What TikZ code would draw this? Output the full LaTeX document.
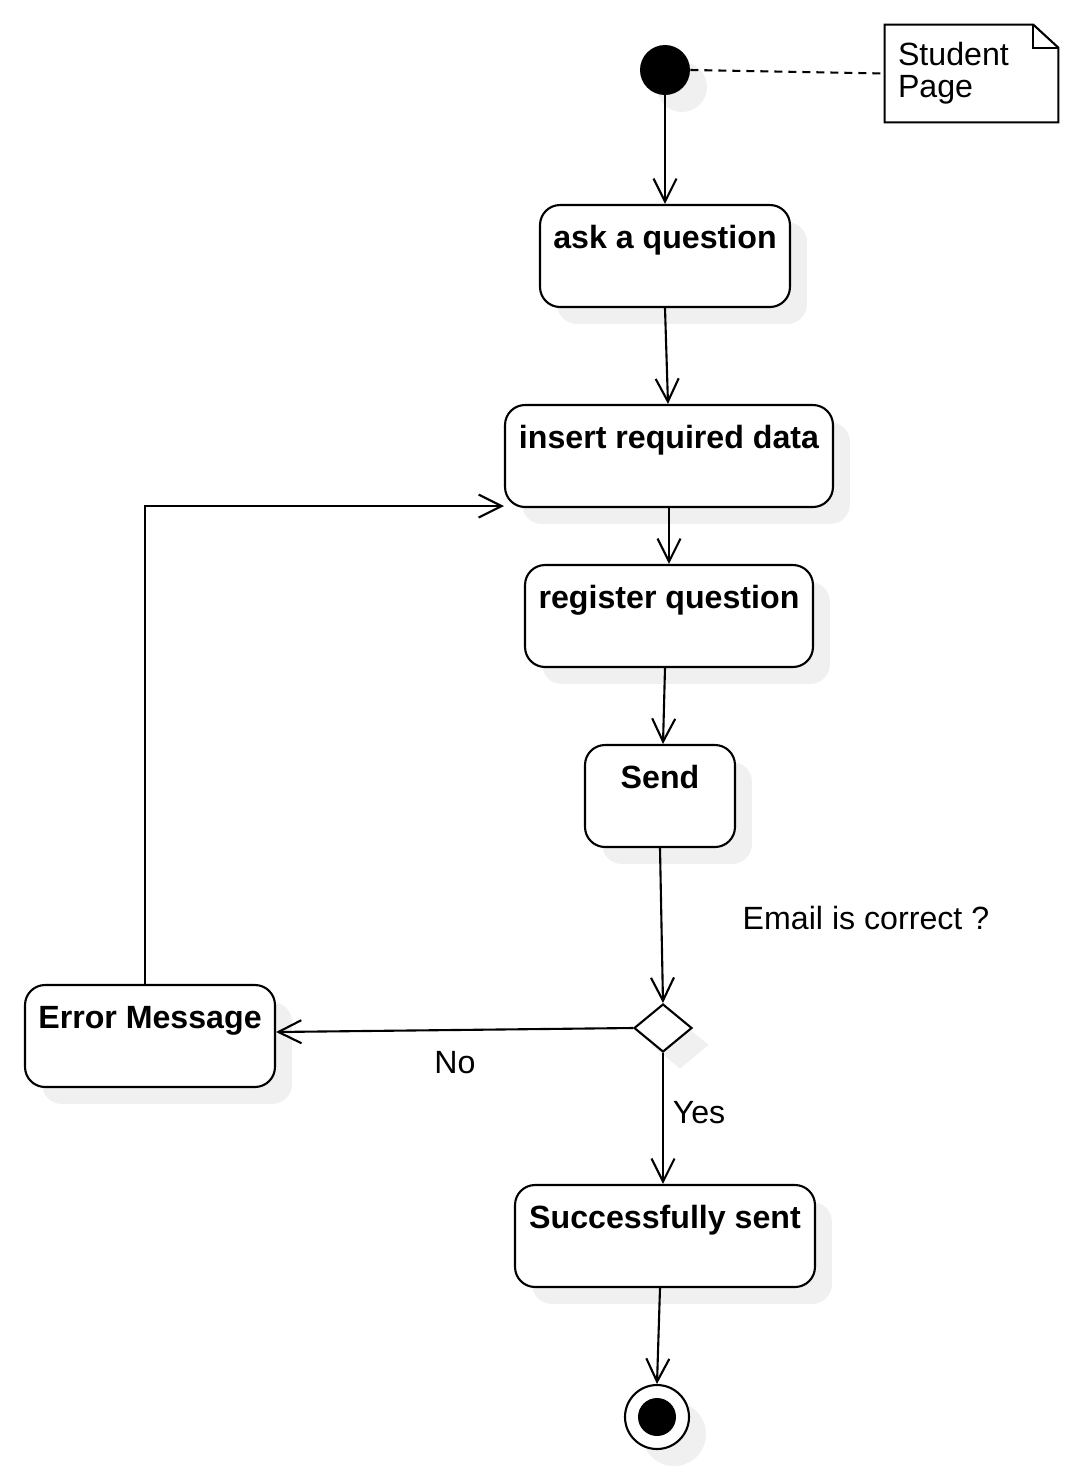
\documentclass[tikz,border=0pt]{standalone}
\usepackage{fontspec}
\setmainfont{Liberation Sans}
\usetikzlibrary{arrows.meta, shapes.geometric, shadows}

\tikzset{
  shadebox/.style={drop shadow={shadow xshift=0.34cm, shadow yshift=-0.34cm, fill=black!6, opacity=1}},
  activity/.style={draw, line width=1.2pt, rounded corners=0.4cm, fill=white, shadebox,
    inner xsep=0pt, inner ysep=0pt, minimum height=2.04cm,
    text height=0.86cm, text depth=1.18cm,
    font=\fontsize{18.3pt}{18.3pt}\selectfont\bfseries},
  flow/.style={-{Straight Barb[length=0.46cm, width=0.46cm]}, line width=1.2pt},
  lbl/.style={font=\fontsize{18.3pt}{18.3pt}\selectfont},
}

\begin{document}
\begin{tikzpicture}[x=0.02cm, y=-0.02cm]
    \useasboundingbox[fill=white] (0,0) rectangle (1085,1475);

    % 1. Start, note
    \node[circle, fill=black, minimum size=1cm, inner sep=0pt, shadebox] (start) at (665,70) {};
    \node[lbl, minimum width=3.46cm, minimum height=1.94cm, inner xsep=0.26cm,
          text width=2.94cm, align=left] (note) at (971.5,73.5) {Student\\Page};
    \draw[line width=1.2pt] (note.north west) -- ([xshift=-0.5cm]note.north east)
        -- ([yshift=-0.46cm]note.north east) -- (note.south east) -- (note.south west) -- cycle;
    \draw[line width=1.2pt] ([xshift=-0.5cm]note.north east) |- ([yshift=-0.46cm]note.north east);

    % 2. Activities
    \node[activity, minimum width=5cm] (ask) at (665,256) {ask a question};
    \node[activity, minimum width=6.56cm] (insert) at (669,456) {insert required data};
    \node[activity, minimum width=5.76cm] (register) at (669,616) {register question};
    \node[activity, minimum width=3cm] (send) at (660,796) {Send};
    \node[diamond, draw, line width=1.2pt, fill=white, minimum width=1.16cm, minimum height=0.96cm,
          aspect=1.2, inner sep=0pt, shadebox] (check) at (663,1028) {};
    \node[activity, minimum width=5cm] (error) at (150,1036) {Error Message};
    \node[activity, minimum width=6cm] (success) at (665,1236) {Successfully sent};
    \node[circle, draw, line width=1.2pt, fill=white, minimum size=1.28cm, inner sep=0pt, shadebox] (stop) at (657,1417) {};
    \fill (stop.center) circle[radius=0.38cm];

    % 3. Labels
    \node[lbl] (email) at (866,918) {Email is correct ?};
    \node[lbl] (no) at (455,1063) {No};
    \node[lbl] (yes) at (699,1113) {Yes};

    % 4. Transitions
    \draw[line width=1.2pt, dash pattern=on 0.16cm off 0.12cm] (start.east) -- (note.west);
    \draw[flow] (start.south) -- (ask.north);
    \draw[flow] (ask.south) -- ([xshift=0.06cm]ask.south |- insert.north);
    \draw[flow] (insert.south) -- (register.north);
    \draw[flow] ([xshift=-0.08cm]register.south) -- ([xshift=0.06cm]send.north);
    \draw[flow] (send.south) -- (check.north);
    \draw[flow] (check.west) -- ([yshift=0.08cm]error.east);
    \draw[flow] (check.south) -- (check.south |- success.north);
    \draw[flow] ([xshift=-0.1cm]success.south) -- (stop.north);
    \draw[flow] ([xshift=-0.1cm]error.north) |- ([yshift=0.04cm]insert.south west);
\end{tikzpicture}
\end{document}
